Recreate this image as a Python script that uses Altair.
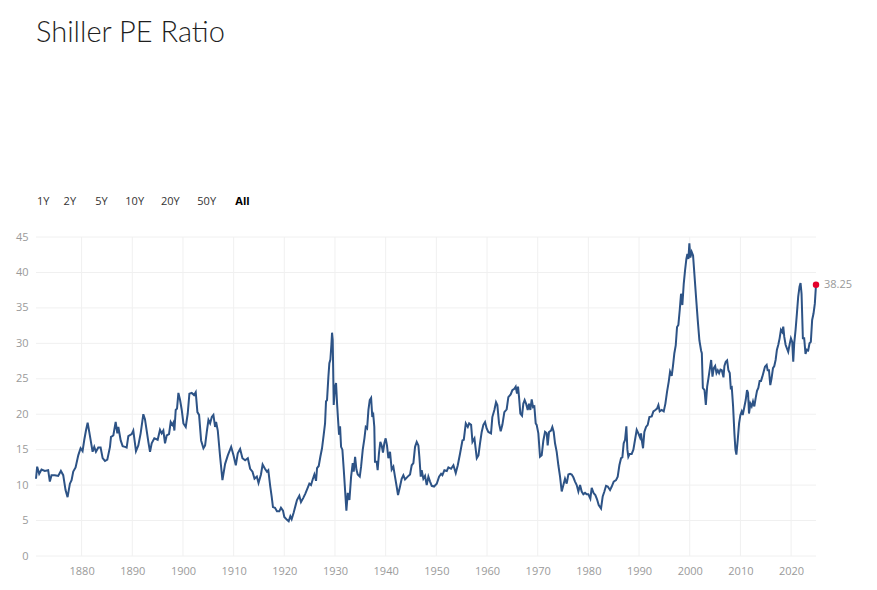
import altair as alt
import pandas as pd

title_text = "Shiller PE Ratio"
range_buttons = ["1Y", "2Y", "5Y", "10Y", "20Y", "50Y", "All"]
last_label = "38.25"

years = [
    1871.0, 1871.23, 1871.63, 1872.09, 1872.74, 1873.4, 1873.73, 1874.06, 1874.72, 1875.38,
    1875.91, 1876.37, 1876.83, 1877.23, 1877.69, 1878.02, 1878.35, 1878.81, 1879.34, 1879.8,
    1880.19, 1880.53, 1880.86, 1881.19, 1881.51, 1881.84, 1882.17, 1882.5, 1882.83, 1883.29,
    1883.75, 1884.15, 1884.61, 1885.07, 1885.6, 1885.8, 1886.26, 1886.72, 1887.05, 1887.25,
    1887.71, 1888.1, 1888.56, 1888.89, 1889.22, 1889.88, 1890.2, 1890.73, 1891.19, 1891.65,
    1892.18, 1892.5, 1892.84, 1893.17, 1893.5, 1893.83, 1894.35, 1895.01, 1895.47, 1895.8,
    1896.13, 1896.46, 1896.79, 1897.25, 1897.58, 1897.91, 1898.11, 1898.31, 1898.57, 1898.83,
    1899.1, 1899.43, 1899.76, 1900.09, 1900.55, 1900.94, 1901.27, 1901.73, 1902.19, 1902.52,
    1902.85, 1903.18, 1903.58, 1904.04, 1904.37, 1904.7, 1905.03, 1905.36, 1905.69, 1906.01,
    1906.34, 1906.54, 1906.87, 1907.33, 1907.79, 1908.32, 1908.85, 1909.51, 1909.97, 1910.43,
    1910.82, 1911.28, 1911.74, 1912.27, 1912.8, 1913.26, 1913.72, 1914.12, 1914.58, 1914.91,
    1915.39, 1915.72, 1916.18, 1916.57, 1916.84, 1917.23, 1917.5, 1917.76, 1918.16, 1918.55,
    1919.01, 1919.34, 1919.74, 1920.0, 1920.53, 1920.86, 1921.19, 1921.45, 1921.84, 1922.17,
    1922.5, 1922.96, 1923.29, 1923.75, 1924.15, 1924.61, 1924.94, 1925.27, 1925.6, 1925.93,
    1926.26, 1926.46, 1926.79, 1927.11, 1927.44, 1927.77, 1928.04, 1928.23, 1928.43, 1928.7,
    1928.89, 1929.09, 1929.29, 1929.42, 1929.55, 1929.75, 1930.01, 1930.21, 1930.41, 1930.61,
    1930.8, 1931.0, 1931.2, 1931.46, 1931.73, 1931.99, 1932.25, 1932.52, 1932.85, 1933.18,
    1933.5, 1933.7, 1933.97, 1934.23, 1934.49, 1934.89, 1935.15, 1935.48, 1935.81, 1936.07,
    1936.34, 1936.6, 1936.86, 1937.13, 1937.36, 1937.56, 1937.76, 1937.89, 1938.22, 1938.42,
    1938.68, 1938.95, 1939.21, 1939.47, 1939.74, 1940.0, 1940.26, 1940.53, 1940.86, 1941.19,
    1941.52, 1941.84, 1942.17, 1942.44, 1942.83, 1943.16, 1943.49, 1943.82, 1944.35, 1944.81,
    1945.14, 1945.47, 1945.8, 1946.13, 1946.46, 1946.65, 1946.92, 1947.11, 1947.44, 1947.77,
    1948.1, 1948.43, 1948.76, 1949.09, 1949.55, 1950.08, 1950.54, 1950.94, 1951.2, 1951.59,
    1952.06, 1952.38, 1952.91, 1953.37, 1953.83, 1954.23, 1954.69, 1955.15, 1955.42, 1955.81,
    1956.21, 1956.47, 1956.86, 1957.13, 1957.52, 1957.98, 1958.31, 1958.62, 1958.95, 1959.28,
    1959.61, 1959.93, 1960.26, 1960.79, 1961.05, 1961.45, 1961.78, 1962.04, 1962.37, 1962.7,
    1963.03, 1963.42, 1963.88, 1964.21, 1964.67, 1965.0, 1965.39, 1965.66, 1965.92, 1966.12,
    1966.32, 1966.58, 1966.91, 1967.17, 1967.43, 1967.7, 1968.03, 1968.29, 1968.55, 1968.82,
    1969.08, 1969.34, 1969.61, 1969.8, 1970.13, 1970.46, 1970.79, 1971.12, 1971.45, 1971.78,
    1971.97, 1972.24, 1972.63, 1972.89, 1973.16, 1973.42, 1973.75, 1974.08, 1974.41, 1974.74,
    1975.07, 1975.39, 1975.72, 1976.05, 1976.38, 1976.71, 1977.04, 1977.37, 1977.7, 1978.03,
    1978.36, 1978.68, 1979.01, 1979.34, 1979.67, 1980.0, 1980.39, 1980.66, 1981.05, 1981.38,
    1981.71, 1982.04, 1982.5, 1982.83, 1983.16, 1983.49, 1983.82, 1984.28, 1984.61, 1985.0,
    1985.46, 1985.79, 1986.12, 1986.45, 1986.71, 1986.97, 1987.24, 1987.5, 1987.7, 1987.89,
    1988.16, 1988.55, 1988.88, 1989.21, 1989.54, 1989.87, 1990.2, 1990.39, 1990.59, 1990.79,
    1991.05, 1991.38, 1991.71, 1992.04, 1992.5, 1992.83, 1993.22, 1993.55, 1993.82, 1994.08,
    1994.47, 1994.87, 1995.2, 1995.53, 1995.86, 1996.12, 1996.45, 1996.71, 1996.97, 1997.24,
    1997.5, 1997.76, 1998.03, 1998.29, 1998.55, 1998.82, 1999.08, 1999.34, 1999.54, 1999.74,
    1999.93, 2000.13, 2000.39, 2000.66, 2000.92, 2001.25, 2001.58, 2001.91, 2002.24, 2002.39,
    2002.59, 2002.92, 2003.18, 2003.44, 2003.7, 2004.03, 2004.23, 2004.49, 2004.75, 2005.02,
    2005.28, 2005.54, 2005.8, 2006.07, 2006.33, 2006.66, 2006.85, 2007.11, 2007.38, 2007.64,
    2007.9, 2008.1, 2008.3, 2008.56, 2008.82, 2009.02, 2009.21, 2009.48, 2009.74, 2010.0,
    2010.26, 2010.46, 2010.72, 2011.05, 2011.31, 2011.51, 2011.7, 2011.97, 2012.23, 2012.49,
    2012.75, 2013.02, 2013.28, 2013.54, 2013.8, 2014.07, 2014.33, 2014.59, 2014.85, 2015.18,
    2015.38, 2015.64, 2015.9, 2016.16, 2016.43, 2016.69, 2016.95, 2017.21, 2017.48, 2017.74,
    2018.0, 2018.26, 2018.46, 2018.66, 2018.92, 2019.18, 2019.44, 2019.7, 2019.97, 2020.23,
    2020.43, 2020.62, 2020.89, 2021.15, 2021.41, 2021.67, 2021.87, 2022.07, 2022.33, 2022.59,
    2022.85, 2023.11, 2023.38, 2023.64, 2023.9, 2024.16, 2024.43, 2024.69, 2024.92,
]

pe_values = [
    10.9, 12.6, 11.6, 12.2, 12.0, 12.1, 10.5, 11.4, 11.4, 11.3,
    12.0, 11.4, 9.3, 8.3, 10.2, 10.7, 11.9, 12.5, 14.2, 15.2,
    14.8, 16.4, 17.7, 18.8, 17.5, 16.1, 14.7, 15.4, 14.7, 15.3,
    15.3, 13.8, 13.4, 13.6, 15.4, 16.8, 17.0, 18.9, 17.3, 18.2,
    16.3, 15.5, 15.4, 15.3, 16.9, 17.2, 17.7, 14.8, 15.6, 17.3,
    20.0, 19.3, 17.7, 16.1, 14.7, 15.9, 16.6, 16.4, 17.8, 17.3,
    17.7, 15.9, 17.0, 17.2, 18.9, 18.5, 18.8, 17.7, 20.6, 20.8,
    23.0, 22.0, 20.6, 18.7, 18.2, 20.1, 22.9, 23.0, 22.7, 23.1,
    20.3, 19.9, 16.3, 15.2, 15.6, 17.5, 19.2, 18.7, 19.6, 19.9,
    18.2, 18.9, 17.7, 14.0, 10.7, 13.0, 14.2, 15.4, 14.2, 12.8,
    14.5, 15.1, 13.8, 13.5, 13.8, 12.3, 11.9, 10.9, 11.2, 10.3,
    11.5, 12.9, 12.3, 11.9, 12.1, 9.8, 8.4, 6.9, 6.8, 6.3,
    6.3, 6.8, 6.4, 5.5, 5.1, 4.9, 5.6, 5.2, 6.1, 7.0,
    7.9, 8.5, 7.6, 8.2, 8.8, 9.6, 10.2, 10.0, 10.8, 11.5,
    10.6, 12.4, 12.7, 14.0, 15.2, 17.1, 18.7, 21.8, 22.0, 25.3,
    27.2, 27.7, 29.8, 31.5, 30.5, 21.3, 23.9, 24.4, 21.5, 19.2,
    17.1, 18.3, 15.4, 15.0, 12.2, 9.3, 6.4, 8.9, 7.9, 11.2,
    13.1, 11.9, 14.0, 12.2, 11.5, 11.2, 12.6, 15.0, 16.6, 18.2,
    18.0, 20.6, 22.0, 22.3, 19.6, 19.9, 18.2, 13.3, 13.3, 12.1,
    14.5, 16.1, 15.6, 14.6, 15.9, 16.6, 15.6, 13.8, 14.7, 12.2,
    12.6, 11.2, 9.8, 8.6, 9.8, 10.9, 11.4, 10.8, 11.2, 11.5,
    12.8, 13.1, 15.4, 16.1, 15.6, 14.0, 11.2, 12.1, 10.9, 11.3,
    10.0, 11.2, 10.5, 9.9, 9.8, 10.2, 11.2, 11.6, 11.4, 12.1,
    12.0, 12.5, 12.3, 12.8, 11.7, 12.8, 14.5, 16.3, 16.4, 18.7,
    18.2, 18.7, 18.5, 16.1, 16.6, 13.8, 14.2, 15.9, 17.5, 18.5,
    18.9, 18.0, 17.5, 17.3, 19.6, 20.6, 21.7, 21.3, 18.7, 17.6,
    18.5, 20.3, 20.7, 22.4, 22.8, 23.4, 23.6, 23.9, 22.9, 23.9,
    22.4, 20.1, 19.8, 21.5, 22.0, 21.5, 20.6, 21.5, 20.6, 22.1,
    21.0, 21.1, 18.7, 18.5, 17.3, 14.0, 14.2, 16.3, 17.5, 17.3,
    15.6, 17.5, 17.7, 18.2, 17.5, 15.9, 14.7, 12.8, 11.2, 9.1,
    10.0, 10.9, 10.2, 11.5, 11.6, 11.5, 11.1, 10.5, 10.0, 9.1,
    10.0, 9.1, 8.7, 8.9, 8.7, 8.7, 8.1, 9.6, 8.85, 8.6,
    8.0, 7.2, 6.7, 8.4, 9.1, 9.9, 9.8, 9.3, 9.8, 10.5,
    10.7, 11.2, 12.8, 13.8, 13.9, 15.9, 16.4, 18.3, 15.0, 14.0,
    14.4, 14.4, 15.0, 16.4, 17.8, 17.3, 16.7, 17.3, 16.1, 15.2,
    17.5, 18.2, 18.5, 19.6, 19.7, 20.4, 20.6, 20.8, 21.3, 20.4,
    20.6, 20.4, 21.5, 23.2, 24.6, 26.0, 25.4, 26.9, 28.6, 29.7,
    32.3, 32.6, 34.7, 37.0, 35.4, 38.4, 40.3, 41.9, 42.6, 41.9,
    44.1, 42.1, 42.9, 42.4, 39.8, 36.5, 33.3, 30.4, 29.0, 28.6,
    23.7, 23.4, 21.3, 23.9, 25.1, 26.7, 27.65, 25.3, 26.5, 26.8,
    25.8, 26.2, 25.8, 26.3, 26.2, 25.2, 26.8, 27.4, 27.6, 26.2,
    25.8, 23.7, 23.8, 21.1, 17.3, 15.0, 14.3, 16.4, 18.7, 19.9,
    20.4, 19.9, 20.8, 22.0, 23.4, 23.0, 20.1, 21.5, 21.1, 21.8,
    21.1, 22.3, 23.3, 23.7, 24.7, 24.7, 25.3, 26.0, 26.7, 26.95,
    26.2, 26.2, 24.1, 25.1, 26.5, 26.8, 27.65, 29.1, 29.8, 30.7,
    31.9, 31.6, 32.35, 30.9, 29.8, 29.3, 28.8, 29.8, 30.7, 30.2,
    27.4, 30.0, 31.9, 34.2, 36.6, 38.0, 38.5, 37.0, 30.7, 30.7,
    28.5, 29.1, 29.0, 30.0, 30.2, 33.3, 34.2, 35.6, 38.25,
]

x_ticks = [1880, 1890, 1900, 1910, 1920, 1930, 1940, 1950, 1960, 1970, 1980, 1990, 2000, 2010, 2020]
y_ticks = [0, 5, 10, 15, 20, 25, 30, 35, 40, 45]

df = pd.DataFrame({"year": years, "pe": pe_values})
last_df = df.tail(1).assign(label=last_label)
xgrid_df = pd.DataFrame({"year": x_ticks})
ygrid_df = pd.DataFrame({"pe": y_ticks})

W, H = 780, 319
FONT = "Open Sans"
LABEL_COLOR = "#9a9a9a"
GRID = "#f0f0f0"
LINE = "#2d5386"

x_scale = alt.Scale(domain=[years[0], years[-1]], nice=False, zero=False)
y_scale = alt.Scale(domain=[0, 45], nice=False)

x_axis = alt.Axis(values=x_ticks, format="d", title=None, grid=False,
                  domain=False, ticks=False, labelColor=LABEL_COLOR, labelFont=FONT,
                  labelFontSize=11, labelPadding=9, labelOverlap=False)
y_axis = alt.Axis(values=y_ticks, format="d", title=None, grid=False,
                  domain=False, ticks=False, labelColor=LABEL_COLOR, labelFont=FONT,
                  labelFontSize=11, labelPadding=8, labelOverlap=False)

x_enc = alt.X("year:Q", scale=x_scale, axis=x_axis)
y_enc = alt.Y("pe:Q", scale=y_scale, axis=y_axis)

xgrid = alt.Chart(xgrid_df).mark_rule(color=GRID, strokeWidth=1).encode(x=x_enc)
ygrid = alt.Chart(ygrid_df).mark_rule(color=GRID, strokeWidth=1).encode(y=y_enc)

line = alt.Chart(df).mark_line(color=LINE, strokeWidth=2, interpolate="linear").encode(
    x=x_enc, y=y_enc)

dot = alt.Chart(last_df).mark_circle(color="#e4002b", size=42, opacity=1).encode(
    x=x_enc, y=y_enc)

dot_label = alt.Chart(last_df).mark_text(align="left", baseline="middle", dx=8,
                                         font=FONT, fontSize=11, color="#999999").encode(
    x=x_enc, y=y_enc, text="label:N")

title = alt.Chart(pd.DataFrame({"t": [title_text]})).mark_text(
    align="left", baseline="alphabetic", font="Lato", fontSize=29, fontWeight=300,
    color="#1f1f1f"
).encode(x=alt.value(0), y=alt.value(-195), text="t:N")

btn_x = [1, 27.6, 59.3, 89.3, 125, 161.3, 199.3]
buttons = []
for lab, bx in zip(range_buttons, btn_x):
    buttons.append(
        alt.Chart(pd.DataFrame({"t": [lab]})).mark_text(
            align="left", baseline="alphabetic", font=FONT, fontSize=11,
            color="#000000" if lab == "All" else "#333333",
            fontWeight="bold" if lab == "All" else "normal"
        ).encode(x=alt.value(bx), y=alt.value(-32.5), text="t:N")
    )

chart = alt.layer(xgrid, ygrid, line, dot, dot_label, title, *buttons).properties(
    width=W, height=H,
    autosize=alt.AutoSizeParams(type="none"),
    padding={"left": 28, "top": 229, "right": 53, "bottom": 26},
    background="white",
).configure_view(stroke=None, strokeWidth=0)

chart.save("out.html", embed_options={"renderer": "svg", "actions": False})
